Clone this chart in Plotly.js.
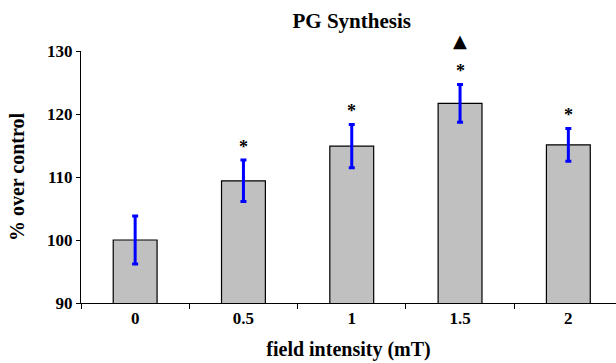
<!DOCTYPE html>
<html>
<head>
<meta charset="utf-8">
<script src="https://cdn.plot.ly/plotly-3.0.1.min.js"></script>
<style>html,body{margin:0;padding:0;background:#fff;}#chart{width:616px;height:363px;}</style>
</head>
<body>
<div id="chart"></div>
<script>
const categories = ['0', '0.5', '1', '1.5', '2'];
const values = [100.0, 109.4, 114.9, 121.7, 115.1];
const errors = [3.8, 3.3, 3.45, 3.0, 2.6];
const significance = ['', '*', '*', '*', '*'];
const triangleIndex = [3];
const triangleValue = [131.6];
const yTicks = [90, 100, 110, 120, 130];
const yRange = [90, 130];

const font = {family: '"Liberation Serif", "Times New Roman", serif', color: '#000', weight: 'bold'};
const f = (size) => Object.assign({}, font, {size: size});

const bars = {
  type: 'bar',
  x: categories,
  y: values,
  width: 0.405,
  marker: {color: '#c0c0c0', line: {color: '#000', width: 1.2}},
  error_y: {type: 'data', array: errors, visible: true, color: '#0000ff', thickness: 3, width: 3},
  hoverinfo: 'skip'
};

const annotations = categories.map((c, i) => ({
  x: i, y: values[i] + errors[i], xref: 'x', yref: 'y',
  text: significance[i], showarrow: false, yanchor: 'bottom', yshift: 1,
  font: f(18)
})).filter(a => a.text);

triangleIndex.forEach((idx, k) => {
  annotations.push({
    x: idx, xref: 'x',
    y: (triangleValue[k] - yRange[0]) / (yRange[1] - yRange[0]), yref: 'paper',
    text: '▲', showarrow: false, yanchor: 'middle', xanchor: 'center',
    font: {family: 'DejaVu Sans', size: 18, color: '#000'}
  });
});

const layout = {
  width: 616, height: 363,
  margin: {l: 81, r: 0, t: 51, b: 60},
  paper_bgcolor: '#fff', plot_bgcolor: '#fff',
  showlegend: false,
  title: {text: 'PG Synthesis', x: 0.571, xanchor: 'center', y: 0.944, yanchor: 'middle', font: f(21)},
  xaxis: {
    type: 'category',
    range: [-0.5, 4.44],
    showline: true, linecolor: '#000', linewidth: 1,
    ticks: 'outside', tickson: 'boundaries', ticklen: 5, tickcolor: '#000', tickwidth: 1,
    showgrid: false, zeroline: false,
    tickfont: f(17),
    title: {text: 'field intensity (mT)', font: f(20), standoff: 14}
  },
  yaxis: {
    range: yRange,
    tickvals: yTicks,
    showline: true, linecolor: '#000', linewidth: 1,
    ticks: 'outside', ticklen: 4, tickcolor: '#000', tickwidth: 1,
    showgrid: false, zeroline: false,
    tickfont: f(17),
    title: {text: '% over control', font: f(20), standoff: 17}
  },
  annotations: annotations
};

Plotly.newPlot('chart', [bars], layout, {staticPlot: true, displayModeBar: false});
</script>
</body>
</html>
